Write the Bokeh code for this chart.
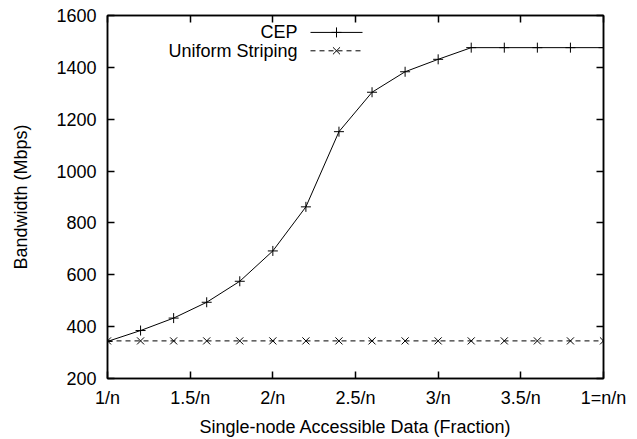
from bokeh.plotting import figure
from bokeh.models import FixedTicker, LinearAxis, Range1d, Label
from bokeh.embed import file_html
from bokeh.resources import INLINE

# ---- data ----
x_vals = [1.0, 1.2, 1.4, 1.6, 1.8, 2.0, 2.2, 2.4, 2.6, 2.8, 3.0, 3.2, 3.4, 3.6, 3.8, 4.0]
cep = [343, 385, 433, 494, 575, 692, 862, 1152, 1304, 1383, 1431, 1476, 1476, 1476, 1476, 1476]
uniform = [345] * 16
series_names = ["CEP", "Uniform Striping"]
x_ticks = [1, 1.5, 2, 2.5, 3, 3.5, 4]
x_tick_labels = ["1/n", "1.5/n", "2/n", "2.5/n", "3/n", "3.5/n", "1=n/n"]
y_ticks = [200, 400, 600, 800, 1000, 1200, 1400, 1600]

FONT = "Liberation Sans"
FS = "18px"
X0, X1, Y0, Y1 = 1, 4, 200, 1600
DASH = "5 4"

p = figure(width=637, height=439, output_backend="svg", toolbar_location=None,
           x_range=Range1d(X0, X1), y_range=Range1d(Y0, Y1),
           min_border_left=107, min_border_right=34, min_border_top=15, min_border_bottom=59,
           background_fill_color="white", border_fill_color="white")
p.grid.visible = False
p.outline_line_color = "black"
p.outline_line_width = 1.5

def style_axis(ax, labels=True):
    ax.axis_line_width = 1.5
    ax.axis_line_color = "black"
    ax.major_tick_in = 7
    ax.major_tick_out = 0
    ax.minor_tick_line_color = None
    ax.major_tick_line_width = 1.5
    ax.major_label_text_font = FONT
    ax.major_label_text_font_size = FS if labels else "0px"
    ax.major_label_text_color = "black"
    ax.axis_label_text_font = FONT
    ax.axis_label_text_font_size = FS
    ax.axis_label_text_font_style = "normal"
    ax.axis_label_text_color = "black"

xa = p.xaxis[0]
xa.ticker = FixedTicker(ticks=x_ticks)
xa.major_label_overrides = {t: l for t, l in zip(x_ticks, x_tick_labels)}
xa.axis_label = "Single-node Accessible Data (Fraction)"
style_axis(xa)
xa.major_label_standoff = 9
xa.axis_label_standoff = 6

ya = p.yaxis[0]
ya.ticker = FixedTicker(ticks=y_ticks)
ya.axis_label = "Bandwidth (Mbps)"
style_axis(ya)
ya.major_label_standoff = 11
ya.axis_label_standoff = 22

top = LinearAxis(ticker=FixedTicker(ticks=x_ticks))
style_axis(top, labels=False)
top.major_label_overrides = {t: "" for t in x_ticks}
p.add_layout(top, "above")
right = LinearAxis(ticker=FixedTicker(ticks=y_ticks))
style_axis(right, labels=False)
right.major_label_overrides = {t: "" for t in y_ticks}
p.add_layout(right, "right")

# data series
p.line(x_vals, cep, line_color="black", line_width=1)
p.scatter(x_vals, cep, marker="cross", size=10, line_color="black", line_width=1)
p.line(x_vals, uniform, line_color="black", line_width=1, line_dash=DASH)
p.scatter(x_vals, uniform, marker="x", size=10, line_color="black", line_width=1)

# legend (gnuplot style: text right-aligned, sample to the right)
FL, FR, FT, FB = 107, 603, 15, 380
def dx(px):
    return X0 + (px - FL) / (FR - FL) * (X1 - X0)
def dy(py):
    return Y1 - (py - FT) / (FB - FT) * (Y1 - Y0)

rows = [(series_names[0], 32, "cross", None), (series_names[1], 50.5, "x", DASH)]
for name, py, mk, dash in rows:
    p.add_layout(Label(x=dx(297), y=dy(py), text=name, text_align="right",
                       text_baseline="middle", text_font=FONT, text_font_size=FS,
                       text_color="black"))
    if dash:
        p.line([dx(310), dx(362)], [dy(py), dy(py)], line_color="black", line_width=1, line_dash=dash)
    else:
        p.line([dx(310), dx(362)], [dy(py), dy(py)], line_color="black", line_width=1)
    p.scatter([dx(336)], [dy(py)], marker=mk, size=10,
              line_color="black", line_width=1)

open("out.html", "w").write(file_html(p, INLINE))
